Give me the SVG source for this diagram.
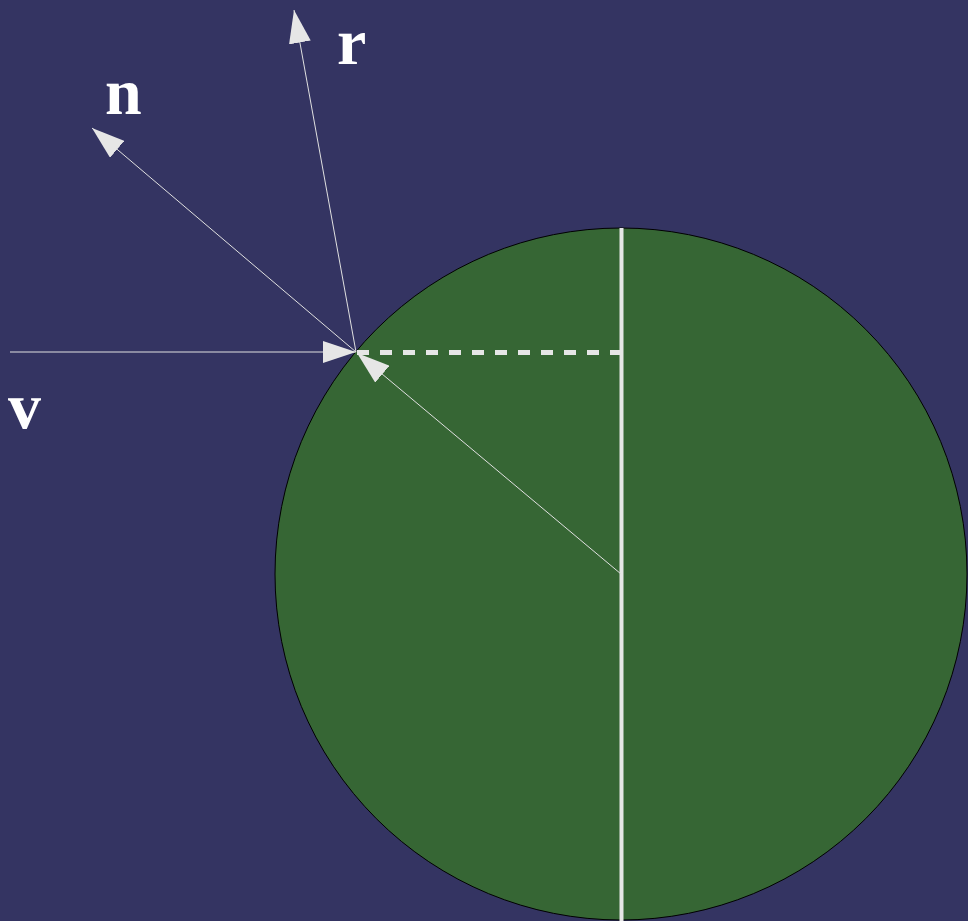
<svg xmlns="http://www.w3.org/2000/svg" width="968" height="921" viewBox="0 0 968 921">
<style>
.ray{stroke:#e0e0e0;stroke-width:1;fill:none}
.lbl{font-family:"Liberation Serif","Times New Roman",serif;font-weight:bold;font-size:66px;fill:#ffffff}
</style>
<defs>
<marker id="ah" viewBox="0 0 33 22" refX="33" refY="11" markerWidth="33" markerHeight="22" markerUnits="userSpaceOnUse" orient="auto">
<path d="M0,0 L33,11 L0,22 Z" fill="#e6e6e6"/>
</marker>
</defs>
<rect width="968" height="921" fill="#343462"/>
<g id="sphere">
<circle cx="621" cy="574" r="346" fill="#366634" stroke="#000" stroke-width="1"/>
</g>
<g id="axis">
<line x1="621.5" y1="228" x2="621.5" y2="921" stroke="#e6e6e6" stroke-width="4"/>
<line x1="357" y1="352.5" x2="621" y2="352.5" stroke="#e6e6e6" stroke-width="5" stroke-dasharray="12 11"/>
</g>
<g id="connectors">
<line class="ray" x1="10" y1="352" x2="356" y2="352" marker-end="url(#ah)"/>
<line class="ray" x1="621" y1="574" x2="357" y2="353" marker-end="url(#ah)"/>
<line class="ray" x1="356" y1="352" x2="92" y2="128" marker-end="url(#ah)"/>
<line class="ray" x1="356" y1="352" x2="294" y2="10" marker-end="url(#ah)"/>
</g>
<g id="labels">
<text class="lbl" x="105" y="114">n</text>
<text class="lbl" x="337" y="64">r</text>
<text class="lbl" x="8" y="428">v</text>
</g>
</svg>
